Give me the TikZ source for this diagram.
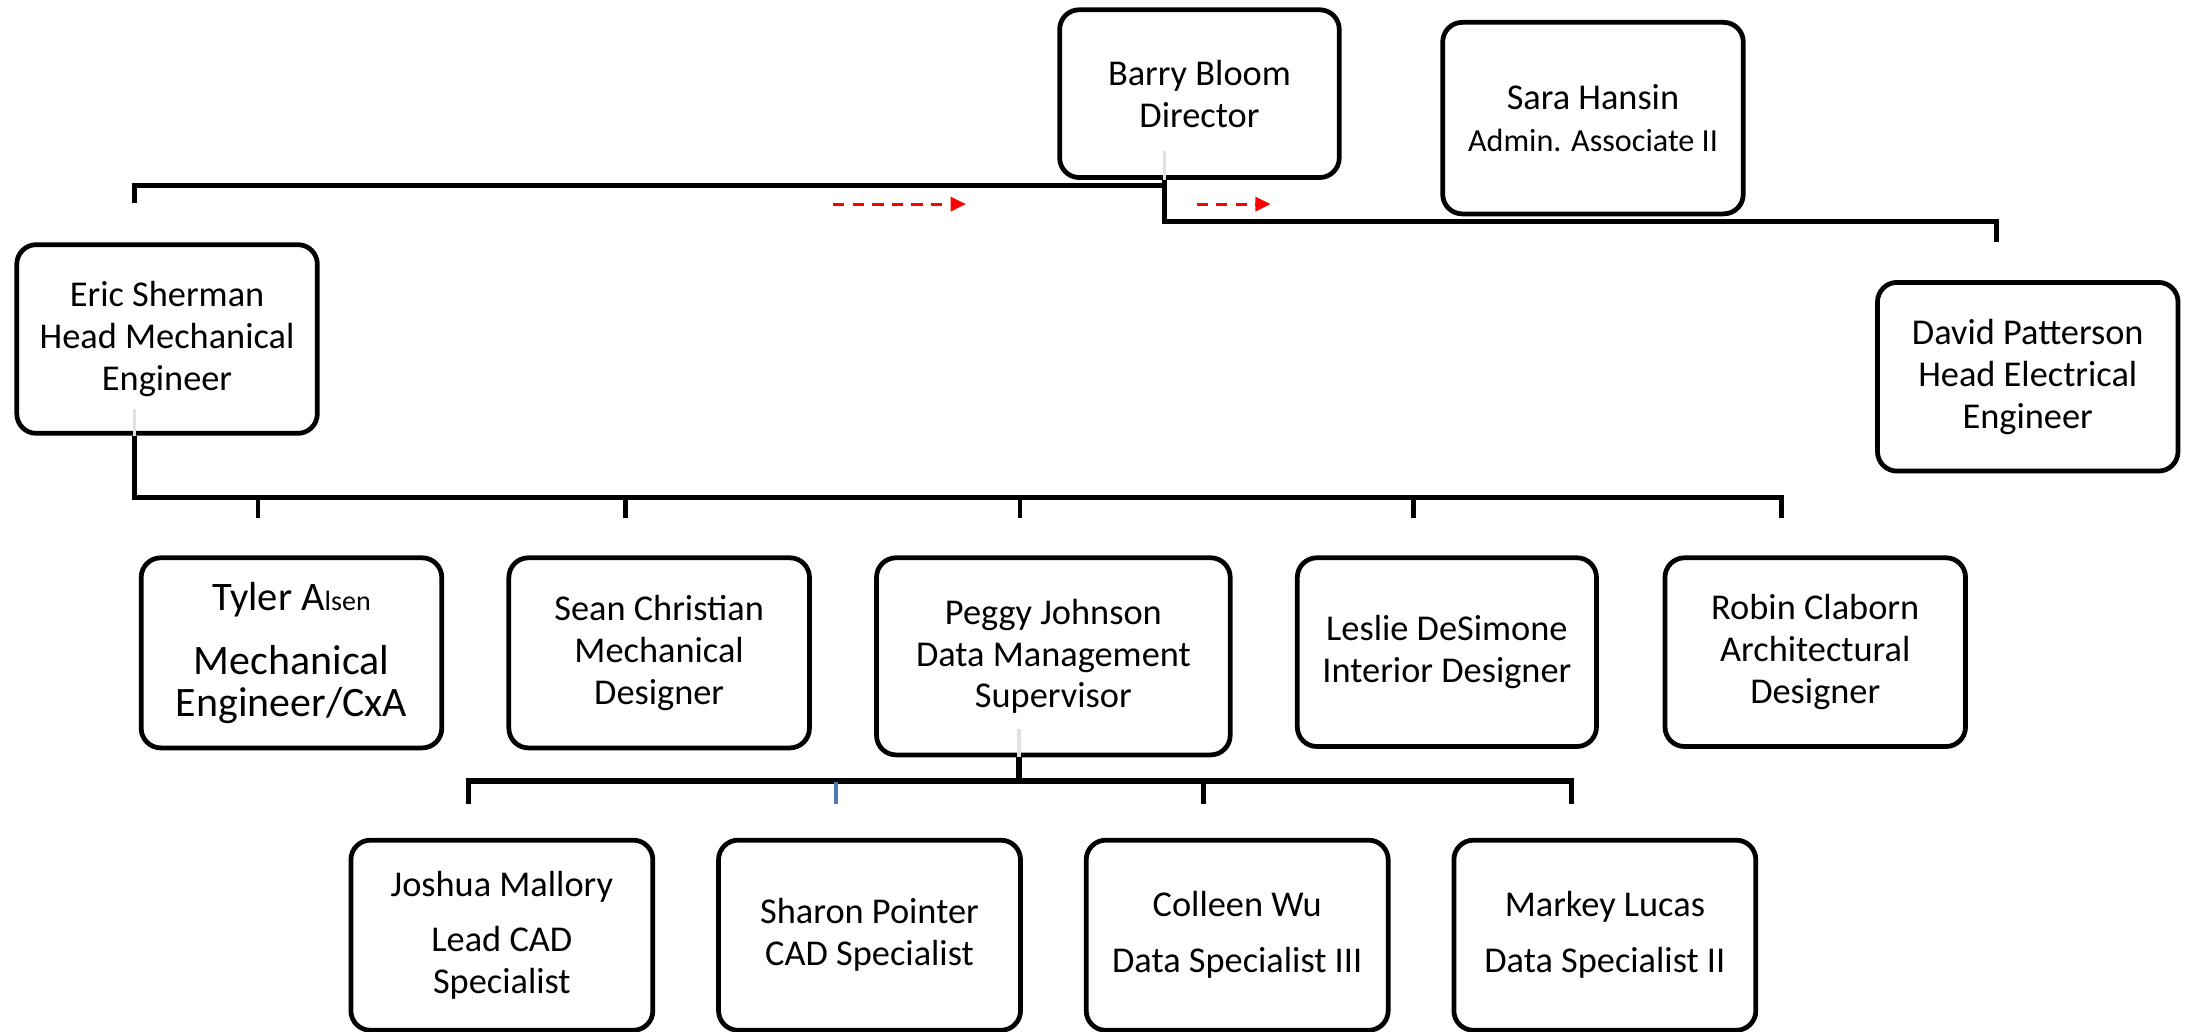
\documentclass[tikz,border=0pt]{standalone}
\usepackage{fontspec}
\setmainfont{Carlito}
\usetikzlibrary{calc,arrows.meta}
\definecolor{stubgray}{RGB}{225,225,225}
\definecolor{tickblue}{RGB}{79,120,180}
\tikzset{
  orgbox/.style={draw=black, line width=3.4pt, rounded corners=14pt, fill=white,
    inner sep=0pt, align=center, minimum width=215pt, minimum height=135pt,
    font=\fontsize{26}{30}\selectfont},
  bus/.style={draw=black, line width=3.6pt},
  thickbus/.style={draw=black, line width=4pt},
  tickline/.style={draw=black, line width=3.2pt},
  bluetick/.style={draw=tickblue, line width=3pt},
  stubline/.style={draw=stubgray, line width=2.4pt},
  redarrow/.style={draw=red, line width=2.2pt, dash pattern=on 8pt off 6pt,
    -{Triangle[length=11pt,width=10pt]}}
}
\begin{document}
\begin{tikzpicture}[x=1pt,y=-1pt]
\useasboundingbox (0,0) rectangle (1568,738);

% boxes
\node[orgbox, minimum width=200pt, minimum height=120pt] (barry) at (858,67) {Barry Bloom\\Director};
\node[orgbox, minimum height=137pt] (sara) at (1139.5,84.5) {Sara Hansin\\{\fontsize{23}{28}\selectfont Admin. Associate II}};
\node[orgbox] (eric) at (119.5,242.5) {Eric Sherman\\Head Mechanical\\Engineer};
\node[orgbox] (david) at (1450.5,269.5) {David Patterson\\Head Electrical\\Engineer};

\node[orgbox, minimum height=136pt] (tyler) at (208.5,467) {{\fontsize{29}{32}\selectfont Tyler A}{\fontsize{20}{24}\selectfont lsen}\\[16pt]{\fontsize{30}{30}\selectfont Mechanical}\\{\fontsize{30}{30}\selectfont Engineer/CxA}};
\node[orgbox, minimum height=136pt] (sean) at (471.5,467) {Sean Christian\\Mechanical\\Designer};
\node[orgbox, minimum width=253pt, minimum height=141pt] (peggy) at (753.5,469.5) {Peggy Johnson\\Data Management\\Supervisor};
\node[orgbox, minimum width=214pt] (leslie) at (1035,466.5) {Leslie DeSimone\\Interior Designer};
\node[orgbox] (robin) at (1298.5,466.5) {Robin Claborn\\Architectural\\Designer};

\node[orgbox, minimum width=216pt, minimum height=136pt] (joshua) at (359,669) {Joshua Mallory\\[10pt]Lead CAD\\Specialist};
\node[orgbox, minimum width=216pt, minimum height=136pt] (sharon) at (622,669) {Sharon Pointer\\CAD Specialist};
\node[orgbox, minimum width=216pt, minimum height=136pt] (colleen) at (885,669) {Colleen Wu\\[10pt]Data Specialist III};
\node[orgbox, minimum width=216pt, minimum height=136pt] (markey) at (1148,669) {Markey Lucas\\[10pt]Data Specialist II};

% director connectors
\draw[stubline] ([xshift=-25pt,yshift=21pt]barry.south) -- ([xshift=-25pt]barry.south);
\draw[bus] ([xshift=-25pt,yshift=-4pt]barry.south) -| ([xshift=-23.5pt,yshift=28pt]eric.north);
\draw[bus] ([xshift=-25pt]barry.south) -- ++(0,30) -| ([xshift=-22.5pt,yshift=27pt]david.north);

% red dashed arrows
\coordinate (ra1s) at (596,146);
\coordinate (ra1e) at (691,146);
\coordinate (ra2s) at (856,146);
\coordinate (ra2e) at (909,146);
\draw[redarrow] (ra1s) -- (ra1e);
\draw[redarrow] (ra2s) -- (ra2e);

% Eric's team
\draw[stubline] ([xshift=-23.5pt,yshift=19pt]eric.south) -- ([xshift=-23.5pt]eric.south);
\draw[bus] ([xshift=-23.5pt]eric.south) -- ++(0,44) coordinate (ebus)
  -| ([xshift=-24.5pt,yshift=27pt]robin.north);
\foreach \n in {tyler,sean,peggy,leslie}
  \draw[tickline] ([xshift=-24pt,yshift=27pt]\n.north) -- ([xshift=-24pt]\n.north |- ebus);

% Peggy's team
\draw[stubline] ([xshift=-24.5pt,yshift=20pt]peggy.south) -- ([xshift=-24.5pt]peggy.south);
\draw[thickbus] ([xshift=-24.5pt]peggy.south) -- ++(0,17) coordinate (pbus);
\draw[thickbus] ([xshift=-24pt,yshift=24pt]joshua.north) |- (pbus)
  -| ([xshift=-24pt,yshift=24pt]markey.north);
\draw[bluetick] ([xshift=-24pt,yshift=24pt]sharon.north) -- ([xshift=-24pt,yshift=40pt]sharon.north);
\draw[tickline] ([xshift=-24pt,yshift=24pt]colleen.north) -- ([xshift=-24pt]colleen.north |- pbus);
\end{tikzpicture}
\end{document}
